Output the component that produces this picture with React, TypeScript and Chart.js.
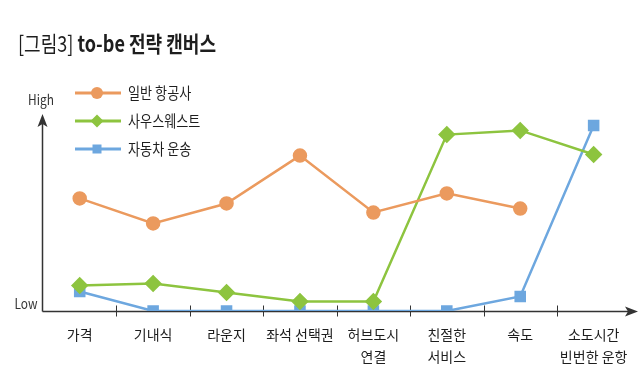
import React, { useEffect, useRef } from "react";
import { Chart, registerables } from "chart.js";

Chart.register(...registerables);

const categories: (string | string[])[] = [
  "가격",
  "기내식",
  "라운지",
  "좌석 선택권",
  ["허브도시", "연결"],
  ["친절한", "서비스"],
  "속도",
  ["소도시간", "빈번한 운항"],
];

const seriesNames = ["일반 항공사", "사우스웨스트", "자동차 운송"];
const generalAirline: (number | null)[] = [5.36, 4.17, 5.12, 7.4, 4.69, 5.6, 4.88, null];
const southwest: number[] = [1.21, 1.31, 0.88, 0.45, 0.45, 8.4, 8.6, 7.45];
const carTransport: number[] = [0.93, 0, 0, 0, 0, 0, 0.69, 8.83];

const titleLabel = "[그림3]";
const titleText = " to-be 전략 캔버스";
const highLabel = "High";
const lowLabel = "Low";

const ORANGE = "#EB9A5E";
const GREEN = "#8DC43F";
const BLUE = "#6DA7DF";
const AXIS = "#333333";
const TEXT = "#1E1E1E";
const FONT = "'Noto Sans CJK KR', 'Noto Sans', sans-serif";

function drawArrowHead(ctx: CanvasRenderingContext2D, tx: number, ty: number, dir: "up" | "right") {
  ctx.beginPath();
  if (dir === "up") {
    ctx.moveTo(tx, ty);
    ctx.lineTo(tx + 5, ty + 13);
    ctx.lineTo(tx, ty + 10);
    ctx.lineTo(tx - 5, ty + 13);
  } else {
    ctx.moveTo(tx, ty);
    ctx.lineTo(tx - 13, ty - 5);
    ctx.lineTo(tx - 10, ty);
    ctx.lineTo(tx - 13, ty + 5);
  }
  ctx.closePath();
  ctx.fill();
}

function condensedText(ctx: CanvasRenderingContext2D, text: string, x: number, y: number, sx: number) {
  ctx.save();
  ctx.textAlign = "left";
  ctx.translate(x, y);
  ctx.scale(sx, 1);
  ctx.fillText(text, 0, 0);
  const w = ctx.measureText(text).width * sx;
  ctx.restore();
  return w;
}

const axesPlugin = {
  id: "axesArrows",
  beforeDatasetsDraw(chart: any) {
    const ctx: CanvasRenderingContext2D = chart.ctx;
    const xs = chart.scales.x;
    const ys = chart.scales.y;
    const y0 = ys.getPixelForValue(0) + 0.5;
    const x0 = 42.5;
    ctx.save();
    ctx.strokeStyle = AXIS;
    ctx.fillStyle = AXIS;
    ctx.lineWidth = 1.5;
    ctx.beginPath();
    ctx.moveTo(x0, y0);
    ctx.lineTo(x0, 124);
    ctx.moveTo(x0, y0);
    ctx.lineTo(630, y0);
    ctx.stroke();
    drawArrowHead(ctx, x0, 114, "up");
    drawArrowHead(ctx, 638, y0, "right");
    ctx.lineWidth = 1;
    const n = categories.length;
    for (let i = 0; i < n - 1; i++) {
      const bx = Math.round((xs.getPixelForValue(i) + xs.getPixelForValue(i + 1)) / 2) + 0.5;
      ctx.beginPath();
      ctx.moveTo(bx, y0 - 6);
      ctx.lineTo(bx, y0 + 5);
      ctx.stroke();
    }
    ctx.restore();
  },
  afterDraw(chart: any) {
    const ctx: CanvasRenderingContext2D = chart.ctx;
    ctx.save();
    // Title
    ctx.fillStyle = TEXT;
    ctx.textBaseline = "middle";
    ctx.font = `normal 22px ${FONT}`;
    const w1 = condensedText(ctx, titleLabel, 18, 44, 0.82);
    ctx.font = `bold 22px ${FONT}`;
    condensedText(ctx, titleText, 18 + w1, 44, 0.82);

    // High / Low
    ctx.fillStyle = AXIS;
    ctx.font = `normal 14px ${FONT}`;
    const sx = 0.85;
    condensedText(ctx, highLabel, 41 - (ctx.measureText(highLabel).width * sx) / 2, 100, sx);
    condensedText(ctx, lowLabel, 26 - (ctx.measureText(lowLabel).width * sx) / 2, 304, sx);

    // Legend
    const rows = [93, 121, 149];
    chart.data.datasets.forEach((ds: any, i: number) => {
      const y = rows[i];
      ctx.strokeStyle = ds.borderColor;
      ctx.fillStyle = ds.borderColor;
      ctx.lineWidth = 3;
      ctx.beginPath();
      ctx.moveTo(75, y);
      ctx.lineTo(121, y);
      ctx.stroke();
      const cx = 97;
      ctx.beginPath();
      if (ds.pointStyle === "circle") {
        ctx.arc(cx, y, 6, 0, Math.PI * 2);
      } else if (ds.pointStyle === "rectRot") {
        ctx.moveTo(cx, y - 6.5);
        ctx.lineTo(cx + 6.5, y);
        ctx.lineTo(cx, y + 6.5);
        ctx.lineTo(cx - 6.5, y);
        ctx.closePath();
      } else {
        ctx.rect(cx - 4.5, y - 4.5, 9, 9);
      }
      ctx.fill();
      ctx.fillStyle = TEXT;
      ctx.font = `normal 16px ${FONT}`;
      condensedText(ctx, ds.label, 128, y, 0.82);
    });
    ctx.restore();
  },
};

export default function App() {
  const canvasRef = useRef<HTMLCanvasElement | null>(null);

  useEffect(() => {
    document.body.style.margin = "0";
    const canvas = canvasRef.current;
    if (!canvas) return;
    const chart = new Chart(canvas, {
      type: "line",
      data: {
        labels: categories,
        datasets: [
          {
            label: seriesNames[0],
            data: generalAirline,
            borderColor: ORANGE,
            backgroundColor: ORANGE,
            pointBackgroundColor: ORANGE,
            pointBorderColor: ORANGE,
            pointStyle: "circle",
            pointRadius: 6,
            borderWidth: 2.5,
          },
          {
            label: seriesNames[1],
            data: southwest,
            borderColor: GREEN,
            backgroundColor: GREEN,
            pointBackgroundColor: GREEN,
            pointBorderColor: GREEN,
            pointStyle: "rectRot",
            pointRadius: 7,
            borderWidth: 2.5,
          },
          {
            label: seriesNames[2],
            data: carTransport,
            borderColor: BLUE,
            backgroundColor: BLUE,
            pointBackgroundColor: BLUE,
            pointBorderColor: BLUE,
            pointStyle: "rect",
            pointRadius: 6.4,
            borderWidth: 2.5,
          },
        ],
      },
      options: {
        animation: false,
        responsive: true,
        maintainAspectRatio: false,
        layout: { padding: { left: 43, right: 3, top: 101, bottom: 0 } },
        plugins: {
          legend: { display: false },
          tooltip: { enabled: false },
          title: { display: false },
        },
        scales: {
          x: {
            type: "category",
            offset: true,
            grid: { display: false, drawTicks: false },
            border: { display: false },
            ticks: {
              color: TEXT,
              font: { family: FONT, size: 14, lineHeight: 1.6 },
              padding: 12,
              maxRotation: 0,
              minRotation: 0,
              autoSkip: false,
            },
            afterFit: (s: any) => {
              s.height = 66;
            },
          },
          y: { display: false, min: 0, max: 10 },
        },
      },
      plugins: [axesPlugin],
    });
    return () => chart.destroy();
  }, []);

  return (
    <div style={{ position: "fixed", left: 0, top: 0, width: 640, height: 377, background: "#fff" }}>
      <canvas ref={canvasRef} />
    </div>
  );
}
